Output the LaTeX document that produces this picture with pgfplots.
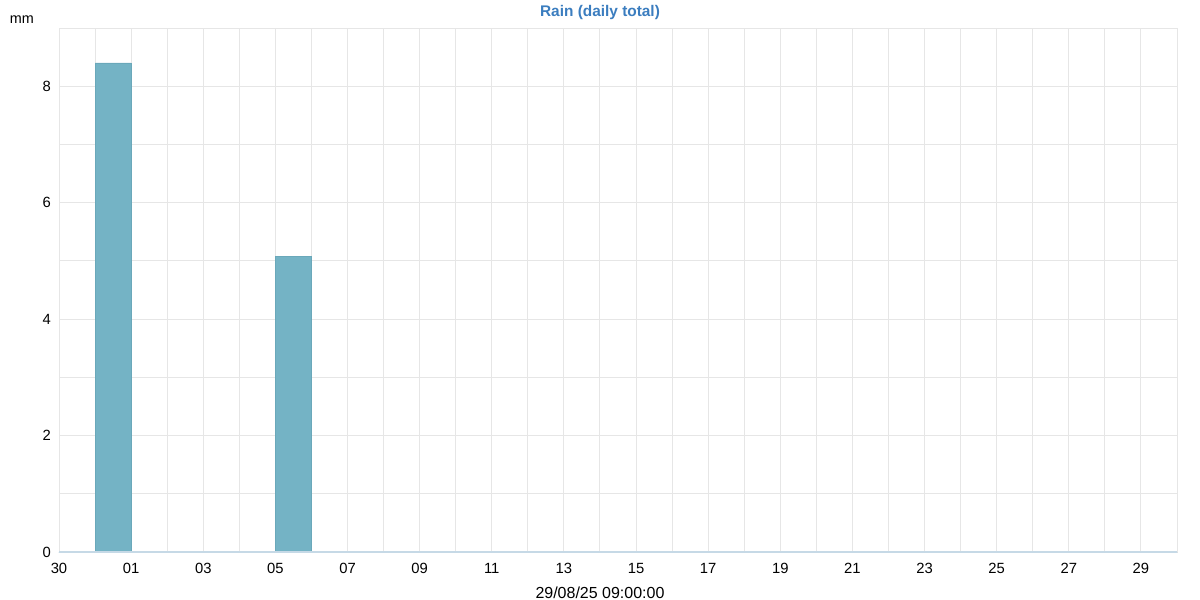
\documentclass[border=0pt]{standalone}
\usepackage{pgfplots}
\pgfplotsset{compat=1.18}
\usepackage{fontspec}
\setmainfont{Liberation Sans}
\definecolor{barc}{HTML}{74B3C5}
\definecolor{barline}{HTML}{6AA8BA}
\definecolor{gridc}{HTML}{E6E6E6}
\definecolor{basec}{HTML}{C6D9E6}
\definecolor{titlec}{HTML}{3B7DBF}
\pgfplotstableread{
x y
0.5 0
1.5 8.4
2.5 0
3.5 0
4.5 0
5.5 0
6.5 5.08
7.5 0
8.5 0
9.5 0
10.5 0
11.5 0
12.5 0
13.5 0
14.5 0
15.5 0
16.5 0
17.5 0
18.5 0
19.5 0
20.5 0
21.5 0
22.5 0
23.5 0
24.5 0
25.5 0
26.5 0
27.5 0
28.5 0
29.5 0
30.5 0
}\raintable
\begin{document}
\begin{tikzpicture}
\useasboundingbox (-29.5bp,-24bp) rectangle (570.5bp,276bp);
\begin{axis}[
  scale only axis,
  width=559bp, height=262bp,
  xmin=0, xmax=31, ymin=0, ymax=9,
  xtick={0,2,...,30},
  xticklabels={30,01,03,05,07,09,11,13,15,17,19,21,23,25,27,29},
  minor xtick={1,3,...,31},
  ytick={0,2,4,6,8},
  minor ytick={1,3,5,7},
  grid=both,
  grid style={gridc, line width=0.5bp},
  minor grid style={gridc, line width=0.5bp},
  major tick length=0pt, minor tick length=0pt,
  axis line style={gridc, line width=0.5bp},
  tick label style={font=\fontsize{7.4bp}{8bp}\selectfont, black},
  /pgf/number format/assume math mode=true,
  xticklabel style={anchor=north, text height=5.4bp, text depth=0pt, yshift=-1.6bp},
  yticklabel style={xshift=-0.5bp},
  clip=false,
]
\addplot[ybar, bar width=1, fill=barc, draw=barline, line width=0.4bp] table[x=x,y=y] {\raintable};
\draw[basec, line width=0.8bp] (axis cs:0,0) -- (axis cs:31,0);
\end{axis}
\node[font=\fontsize{7.7bp}{9bp}\selectfont\bfseries, text=titlec] at (270.5bp,269.5bp) {Rain (daily total)};
\node[font=\fontsize{7.2bp}{9bp}\selectfont, anchor=west, inner sep=0pt] at (-24.8bp,266bp) {mm};
\node[font=\fontsize{8bp}{9bp}\selectfont] at (270.5bp,-20.5bp) {29/08/25 09:00:00};
\end{tikzpicture}
\end{document}
